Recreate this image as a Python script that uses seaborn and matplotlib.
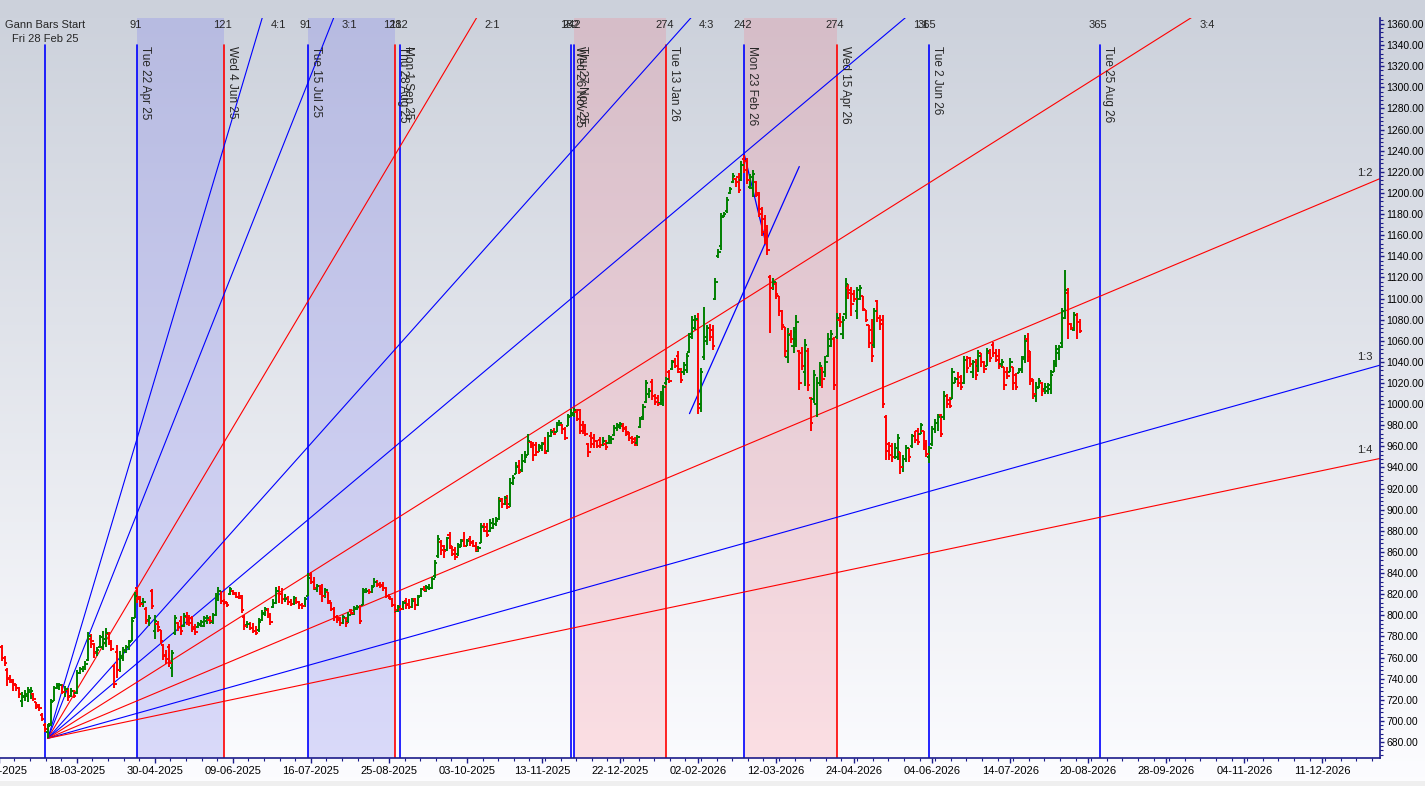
import numpy as np
import pandas as pd
import seaborn as sns
import matplotlib.pyplot as plt
from matplotlib.ticker import AutoMinorLocator, FixedLocator, FuncFormatter
from matplotlib.patches import Rectangle

sns.set_style('ticks')
plt.rcParams['font.family'] = ['Liberation Sans', 'DejaVu Sans']

# ---- price bars (bar index 0 = Fri 28 Feb 25), first visible bar is -16 ----
first_bar = -16
opens = [
    775, 770, 760, 748, 741, 737, 734, 731, 719, 723,
    724, 727, 725, 718, 715, 706, 696, 689, 697, 719,
    731, 733, 734, 727, 729, 724, 728, 726, 745, 749,
    751, 758, 778, 773, 765, 770, 770, 774, 782, 775,
    752, 765, 748, 760, 766, 770, 776, 797, 826, 817,
    812, 806, 796, 823, 785, 792, 786, 772, 762, 770,
    750, 783, 793, 795, 790, 798, 796, 797, 789, 789,
    791, 790, 795, 796, 794, 800, 818, 823, 814, 813,
    820, 823, 820, 817, 818, 798, 791, 792, 788, 785,
    786, 796, 801, 805, 800, 808, 812, 823, 820, 815,
    816, 813, 811, 816, 813, 810, 809, 818, 838, 832,
    825, 828, 826, 818, 822, 812, 806, 798, 797, 793,
    797, 794, 805, 801, 806, 808, 810, 822, 823, 822,
    827, 832, 830, 829, 826, 818, 815, 810, 804, 808,
    806, 814, 811, 808, 815, 810, 818, 825, 823, 826,
    826, 837, 856, 869, 866, 862, 876, 865, 862, 858,
    865, 871, 866, 872, 869, 866, 861, 868, 885, 884,
    880, 883, 886, 891, 910, 905, 910, 905, 925, 934,
    941, 938, 946, 952, 964, 962, 961, 955, 958, 963,
    956, 970, 975, 974, 980, 980, 976, 979, 989, 990,
    993, 994, 980, 978, 962, 970, 968, 965, 966, 961,
    962, 963, 966, 971, 977, 978, 979, 977, 974, 968,
    967, 963, 978, 988, 1002, 1010, 1021, 1008, 1006, 1001,
    1004, 1020, 1030, 1033, 1041, 1046, 1030, 1030, 1032, 1049,
    1066, 1072, 1080, 1000, 1045, 1060, 1072, 1070, 1100, 1140,
    1150, 1178, 1183, 1200, 1210, 1213, 1215, 1212, 1232, 1230,
    1206, 1205, 1210, 1200, 1185, 1175, 1165, 1120, 1110, 1114,
    1102, 1088, 1073, 1045, 1066, 1055, 1062, 1050, 1048, 1030,
    1050, 1006, 1005, 1000, 1020, 1034, 1030, 1046, 1055, 1062,
    1064, 1080, 1066, 1085, 1110, 1108, 1104, 1088, 1100, 1102,
    1089, 1075, 1070, 1056, 1098, 1082, 1080, 988, 962, 960,
    950, 950, 955, 940, 948, 958, 960, 970, 975, 972,
    975, 960, 950, 962, 976, 982, 990, 988, 1008, 1004,
    1005, 1020, 1024, 1026, 1020, 1042, 1044, 1030, 1040, 1036,
    1048, 1040, 1036, 1048, 1056, 1048, 1046, 1038, 1035, 1030,
    1030, 1035, 1028, 1029, 1033, 1045, 1062, 1050, 1022, 1008,
    1015, 1020, 1014, 1012, 1014, 1030, 1038, 1048, 1058, 1082,
    1105, 1076, 1070, 1084, 1078,
]
highs = [
    778, 772, 761, 750, 743, 740, 735, 732, 727, 729,
    732, 732, 726, 718, 716, 707, 698, 697, 721, 733,
    736, 736, 735, 733, 731, 731, 729, 748, 751, 752,
    757, 784, 782, 774, 770, 781, 785, 788, 784, 777,
    754, 772, 766, 770, 772, 777, 798, 822, 827, 818,
    816, 808, 800, 825, 800, 795, 786, 773, 767, 773,
    767, 800, 794, 799, 802, 803, 800, 799, 792, 794,
    796, 799, 800, 799, 802, 821, 827, 823, 815, 813,
    827, 824, 822, 822, 819, 800, 795, 794, 793, 790,
    797, 805, 808, 807, 802, 815, 827, 828, 826, 820,
    818, 815, 818, 817, 814, 812, 817, 840, 841, 836,
    830, 829, 830, 826, 822, 813, 808, 800, 798, 800,
    798, 803, 806, 809, 810, 810, 826, 826, 825, 829,
    835, 833, 832, 832, 827, 820, 816, 811, 810, 810,
    814, 816, 815, 816, 816, 819, 826, 828, 829, 830,
    836, 852, 876, 871, 867, 874, 879, 866, 865, 868,
    872, 879, 872, 875, 871, 869, 866, 887, 887, 887,
    891, 892, 893, 912, 911, 913, 914, 930, 933, 945,
    947, 953, 956, 972, 965, 964, 964, 962, 964, 969,
    974, 976, 977, 983, 985, 981, 978, 991, 995, 996,
    995, 995, 984, 981, 963, 974, 972, 966, 969, 969,
    966, 971, 970, 980, 982, 983, 982, 979, 974, 970,
    969, 971, 988, 1000, 1023, 1015, 1024, 1010, 1009, 1012,
    1018, 1026, 1032, 1042, 1044, 1050, 1034, 1040, 1048, 1067,
    1083, 1084, 1086, 1034, 1092, 1075, 1076, 1075, 1119, 1147,
    1181, 1182, 1196, 1206, 1219, 1214, 1219, 1230, 1236, 1233,
    1218, 1222, 1211, 1201, 1187, 1179, 1170, 1122, 1119, 1116,
    1102, 1089, 1073, 1072, 1070, 1073, 1084, 1051, 1054, 1062,
    1053, 1007, 1032, 1026, 1040, 1035, 1046, 1067, 1070, 1064,
    1086, 1086, 1083, 1119, 1114, 1111, 1108, 1111, 1113, 1102,
    1089, 1075, 1081, 1091, 1099, 1084, 1084, 990, 964, 963,
    963, 972, 955, 952, 961, 958, 972, 975, 977, 982,
    975, 966, 960, 979, 986, 991, 991, 1012, 1010, 1007,
    1034, 1026, 1030, 1028, 1046, 1046, 1045, 1042, 1043, 1051,
    1048, 1041, 1053, 1052, 1059, 1052, 1052, 1043, 1035, 1035,
    1044, 1035, 1029, 1034, 1046, 1065, 1067, 1050, 1024, 1021,
    1025, 1021, 1020, 1020, 1032, 1042, 1056, 1056, 1091, 1127,
    1110, 1077, 1087, 1086, 1081,
]
lows = [
    766, 757, 752, 733, 736, 728, 728, 722, 713, 719,
    718, 721, 719, 711, 709, 700, 689, 684, 695, 719,
    730, 729, 725, 723, 719, 723, 722, 725, 744, 746,
    748, 757, 769, 760, 761, 769, 767, 770, 772, 766,
    731, 741, 746, 757, 764, 767, 776, 797, 812, 808,
    808, 792, 790, 806, 778, 784, 773, 758, 754, 751,
    742, 781, 785, 781, 789, 791, 790, 784, 781, 788,
    789, 789, 792, 792, 792, 799, 814, 811, 810, 808,
    819, 819, 816, 815, 802, 786, 788, 786, 783, 781,
    784, 795, 799, 797, 791, 807, 811, 812, 811, 813,
    810, 809, 810, 811, 806, 806, 808, 818, 830, 824,
    822, 819, 813, 816, 811, 804, 795, 793, 790, 792,
    789, 793, 800, 800, 805, 792, 810, 821, 820, 821,
    827, 827, 826, 823, 816, 815, 808, 802, 803, 804,
    805, 806, 806, 807, 805, 809, 817, 823, 822, 824,
    825, 835, 854, 857, 854, 861, 863, 856, 852, 856,
    865, 865, 866, 866, 865, 860, 860, 868, 879, 874,
    879, 882, 885, 890, 902, 904, 901, 903, 923, 934,
    934, 936, 944, 952, 958, 946, 951, 955, 956, 953,
    955, 969, 971, 974, 979, 972, 966, 979, 988, 988,
    984, 972, 972, 970, 950, 958, 958, 958, 958, 960,
    957, 962, 962, 970, 975, 976, 974, 970, 965, 962,
    960, 960, 977, 985, 1001, 1006, 1004, 999, 998, 999,
    998, 1018, 1020, 1032, 1034, 1029, 1020, 1028, 1029, 1048,
    1062, 1070, 991, 993, 1042, 1056, 1060, 1051, 1099, 1138,
    1146, 1177, 1181, 1199, 1209, 1206, 1200, 1211, 1219, 1208,
    1204, 1196, 1196, 1177, 1159, 1152, 1141, 1067, 1108, 1100,
    1083, 1070, 1045, 1039, 1058, 1048, 1054, 1013, 1032, 1017,
    1012, 975, 1001, 988, 1017, 1015, 1026, 1045, 1054, 1013,
    1062, 1073, 1062, 1081, 1100, 1083, 1097, 1081, 1099, 1088,
    1078, 1053, 1040, 1053, 1078, 1070, 996, 947, 947, 945,
    948, 947, 934, 936, 945, 945, 958, 963, 961, 972,
    957, 950, 944, 960, 973, 975, 969, 985, 996, 996,
    1005, 1020, 1016, 1013, 1019, 1029, 1035, 1025, 1023, 1030,
    1035, 1029, 1036, 1040, 1045, 1040, 1033, 1034, 1013, 1024,
    1030, 1013, 1013, 1029, 1029, 1039, 1040, 1018, 1005, 1002,
    1015, 1008, 1010, 1010, 1010, 1030, 1035, 1042, 1053, 1081,
    1062, 1070, 1069, 1062, 1067,
]
closes = [
    770, 760, 755, 740, 739, 735, 731, 725, 724, 725,
    729, 728, 721, 713, 712, 702, 692, 695, 718, 731,
    733, 734, 727, 730, 723, 728, 724, 745, 749, 751,
    754, 780, 776, 764, 767, 779, 778, 783, 775, 768,
    735, 748, 761, 767, 770, 775, 795, 818, 815, 811,
    813, 795, 797, 809, 795, 789, 776, 761, 759, 755,
    764, 797, 789, 785, 799, 797, 793, 787, 784, 792,
    794, 797, 797, 795, 800, 818, 823, 814, 812, 810,
    825, 821, 817, 816, 805, 790, 792, 788, 785, 783,
    794, 802, 806, 799, 794, 812, 823, 820, 815, 815,
    813, 811, 816, 813, 810, 809, 815, 835, 832, 826,
    828, 822, 818, 824, 814, 806, 798, 796, 793, 798,
    793, 800, 802, 807, 808, 795, 824, 823, 822, 827,
    832, 829, 828, 826, 818, 817, 810, 805, 808, 806,
    812, 810, 808, 814, 810, 817, 825, 824, 827, 826,
    834, 850, 872, 862, 861, 873, 866, 858, 855, 867,
    870, 866, 870, 868, 866, 862, 864, 884, 880, 876,
    887, 886, 889, 908, 905, 911, 903, 925, 930, 940,
    936, 946, 950, 965, 960, 952, 955, 960, 962, 954,
    970, 974, 972, 980, 982, 976, 968, 988, 992, 994,
    986, 975, 975, 972, 955, 962, 965, 960, 961, 965,
    959, 969, 967, 977, 980, 981, 976, 972, 968, 964,
    961, 969, 986, 997, 1020, 1012, 1008, 1002, 1000, 1010,
    1016, 1024, 1022, 1040, 1036, 1033, 1023, 1037, 1046, 1064,
    1080, 1081, 996, 1030, 1064, 1072, 1064, 1055, 1116, 1144,
    1177, 1180, 1193, 1204, 1216, 1210, 1203, 1226, 1222, 1212,
    1215, 1218, 1198, 1180, 1163, 1158, 1146, 1110, 1116, 1104,
    1088, 1075, 1050, 1065, 1062, 1068, 1078, 1020, 1036, 1056,
    1018, 982, 1028, 1020, 1036, 1024, 1040, 1062, 1066, 1018,
    1082, 1078, 1080, 1114, 1105, 1095, 1100, 1108, 1110, 1090,
    1080, 1058, 1046, 1088, 1082, 1076, 1000, 956, 952, 950,
    958, 968, 940, 948, 958, 950, 970, 966, 964, 980,
    962, 953, 958, 976, 982, 988, 972, 1008, 1000, 998,
    1030, 1024, 1020, 1016, 1042, 1034, 1038, 1040, 1028, 1046,
    1040, 1033, 1050, 1044, 1048, 1042, 1036, 1040, 1018, 1027,
    1040, 1020, 1016, 1032, 1043, 1060, 1045, 1024, 1010, 1016,
    1022, 1012, 1016, 1018, 1028, 1038, 1052, 1054, 1088, 1108,
    1076, 1072, 1084, 1078, 1069,
]

# x axis date labels (bar index -> label)
tick_bars = [-16, 11, 38, 65, 92, 119, 146, 172, 199, 226, 253, 280, 307, 334, 361, 388, 415, 442]
tick_labels = ['06-02-2025', '18-03-2025', '30-04-2025', '09-06-2025', '16-07-2025', '25-08-2025',
               '03-10-2025', '13-11-2025', '22-12-2025', '02-02-2026', '12-03-2026', '24-04-2026',
               '04-06-2026', '14-07-2026', '20-08-2026', '28-09-2026', '04-11-2026', '11-12-2026']

# Gann bar-count lines
vline_bars = [32, 62, 91, 121, 123, 182, 183, 215, 242, 274, 306, 365]
vline_colors = ['blue', 'red', 'blue', 'red', 'blue', 'blue', 'blue', 'red', 'blue', 'red', 'blue', 'blue']
vline_counts = ['91', '121', '91', '121', '182', '182', '242', '274', '242', '274', '365', '365']
vline_dates = ['Tue 22 Apr 25', 'Wed 4 Jun 25', 'Tue 15 Jul 25', 'Thu 28 Aug 25', 'Mon 1 Sep 25',
               'Wed 26 Nov 25', 'Thu 27 Nov 25', 'Tue 13 Jan 26', 'Mon 23 Feb 26', 'Wed 15 Apr 26',
               'Tue 2 Jun 26', 'Tue 25 Aug 26']
blue_zones = [(32, 62), (91, 121)]
red_zones = [(183, 215), (242, 274)]

# Gann fan from the low
fan_origin = (1, 683.5)
fan_unit = 2.3          # price per bar on the 1x1
fan_names = ['4:1', '3:1', '2:1', '4:3', '1:1', '3:4', '1:2', '1:3', '1:4']
fan_ratios = [4, 3, 2, 4 / 3, 1, 3 / 4, 1 / 2, 1 / 3, 1 / 4]
fan_colors = ['blue', 'blue', 'red', 'blue', 'blue', 'red', 'red', 'blue', 'red']

# hand drawn trend lines
trend_lines = [((223, 991), (261, 1225)), ((242, 1236), (250, 1146))]

# ---------------- layout ----------------
W, H = 1425, 786
px_per_bar = 2.89
x0_px = 45
x_left = -16.1
left_px = x0_px + x_left * px_per_bar
x_right = (1380 - x0_px) / px_per_bar
y_top = 1360 + 6 / 1.0559
y_bot = 680 - 16 / 1.0559

fig = plt.figure(figsize=(W / 100, H / 100), dpi=100)
bg = fig.add_axes([0, 0, 1, 1], zorder=-10)
grad = np.linspace(0, 1, 256)[:, None, None]
c_top = np.array([0.80, 0.82, 0.86])
c_bot = np.array([0.99, 0.99, 1.0])
bg.imshow(c_top + (c_bot - c_top) * grad, aspect='auto', extent=[0, 1, 0, 1], origin='upper')
bg.add_patch(Rectangle((0, 0), 1, 5 / H, color='#efefef', lw=0))
bg.set_xlim(0, 1)
bg.set_ylim(0, 1)
bg.axis('off')

ax = fig.add_axes([left_px / W, 28 / H, (1380 - left_px) / W, 740 / H])
ax.patch.set_alpha(0)
ax.set_xlim(x_left, x_right)
ax.set_ylim(y_bot, y_top)

navy = '#1c1c8a'
for side in ['left', 'top']:
    ax.spines[side].set_visible(False)
for side in ['right', 'bottom']:
    ax.spines[side].set_color(navy)
    ax.spines[side].set_linewidth(1.2)

ax.yaxis.tick_right()
ax.yaxis.set_major_locator(FixedLocator(np.arange(680, 1361, 20)))
ax.yaxis.set_minor_locator(AutoMinorLocator(5))
ax.yaxis.set_major_formatter(FuncFormatter(lambda v, p: f'{v:.2f}'))
ax.xaxis.set_major_locator(FixedLocator(tick_bars))
ax.set_xticklabels(tick_labels)
ax.xaxis.set_minor_locator(AutoMinorLocator(5))
ax.tick_params(which='major', length=3.5, width=1, color=navy, labelsize=8, labelcolor='black')
ax.tick_params(which='minor', length=2.2, width=0.8, color=navy)
ax.tick_params(axis='y', which='major', labelsize=7.5, pad=1.5, length=3)
ax.tick_params(axis='x', pad=2)
ax.set_xlabel('')
ax.set_ylabel('')

# shaded zones
for a, b in blue_zones:
    ax.axvspan(a, b, color='#7878f0', alpha=0.25, lw=0, zorder=0)
for a, b in red_zones:
    ax.axvspan(a, b, color='#ff6070', alpha=0.18, lw=0, zorder=0)

line_top = (758 - 45) / 740
xy_mix = ('data', 'axes fraction')

# start line
ax.axvline(0, ymin=0, ymax=line_top, color='blue', lw=1.2, zorder=1)
ax.annotate('Gann Bars Start', xy=(0, 0.9905), xycoords=xy_mix, ha='center', va='center', fontsize=8)
ax.annotate('Fri 28 Feb 25', xy=(0, 0.9716), xycoords=xy_mix, ha='center', va='center', fontsize=8)

for xb, col, cnt, dt in zip(vline_bars, vline_colors, vline_counts, vline_dates):
    ax.axvline(xb, ymin=0, ymax=line_top, color=col, lw=1.2, zorder=1)
    ax.annotate(cnt, xy=(xb, 0.9905), xycoords=xy_mix, xytext=(-2, 0), textcoords='offset pixels',
                ha='center', va='center', fontsize=8)
    ax.annotate(dt, xy=(xb, line_top), xycoords=xy_mix, xytext=(2, -1), textcoords='offset pixels',
                rotation=270, ha='left', va='top', fontsize=8.5)

# fan lines
rows = []
for name, r in zip(fan_names, fan_ratios):
    rows.append({'name': name, 'bar': fan_origin[0], 'price': fan_origin[1]})
    rows.append({'name': name, 'bar': x_right, 'price': fan_origin[1] + fan_unit * r * (x_right - fan_origin[0])})
fan_df = pd.DataFrame(rows)
sns.lineplot(data=fan_df, x='bar', y='price', hue='name', palette=dict(zip(fan_names, fan_colors)),
             legend=False, linewidth=0.8, estimator=None, sort=False, ax=ax, zorder=2)

for name, r in zip(fan_names, fan_ratios):
    end_price = fan_origin[1] + fan_unit * r * (x_right - fan_origin[0])
    if end_price > y_top:
        xt = fan_origin[0] + (y_top - fan_origin[1]) / (fan_unit * r)
        ax.annotate(name, xy=(xt, 0.9905), xycoords=xy_mix, xytext=(16, 0), textcoords='offset pixels',
                    ha='center', va='center', fontsize=8)
    else:
        xl = (1365 - x0_px) / px_per_bar
        yl = fan_origin[1] + fan_unit * r * (xl - fan_origin[0])
        ax.annotate(name, xy=(xl, yl), xytext=(0, 12), textcoords='offset pixels',
                    ha='center', va='center', fontsize=8)

trend_df = pd.DataFrame([{'id': i, 'bar': p[0], 'price': p[1]}
                         for i, seg in enumerate(trend_lines) for p in seg])
sns.lineplot(data=trend_df, x='bar', y='price', units='id', estimator=None, sort=False,
             color='blue', linewidth=0.9, ax=ax, zorder=2)

# OHLC bars
ohlc = pd.DataFrame({'open': opens, 'high': highs, 'low': lows, 'close': closes})
ohlc['bar'] = np.arange(first_bar, first_bar + len(ohlc))
bar_cols = np.where(ohlc['close'] >= ohlc['open'], '#008000', '#ff0000')
ax.vlines(ohlc['bar'], ohlc['low'], ohlc['high'], colors=bar_cols, lw=1.4, zorder=3)
ax.hlines(ohlc['open'], ohlc['bar'] - 0.8, ohlc['bar'], colors=bar_cols, lw=1.4, zorder=3)
ax.hlines(ohlc['close'], ohlc['bar'], ohlc['bar'] + 0.8, colors=bar_cols, lw=1.4, zorder=3)

ax.set_xlim(x_left, x_right)
ax.set_ylim(y_bot, y_top)
ax.set_xlabel('')
ax.set_ylabel('')

fig.savefig('out.png', dpi=100)
